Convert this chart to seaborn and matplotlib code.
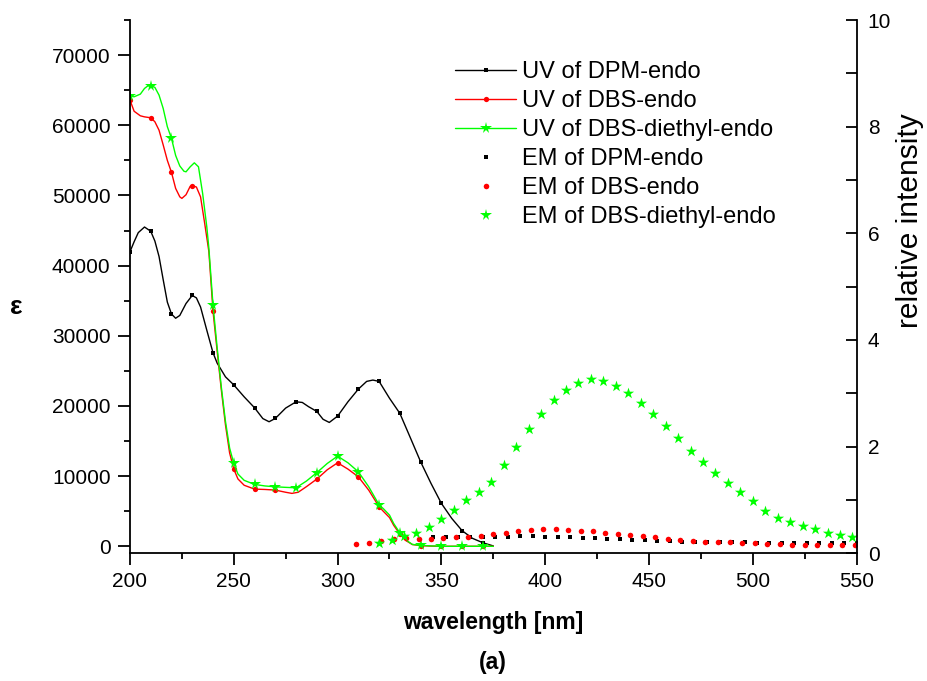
import matplotlib
matplotlib.use("Agg")
import matplotlib.pyplot as plt
from matplotlib.lines import Line2D
from matplotlib.ticker import MultipleLocator
import seaborn as sns

sns.set_theme(style="ticks")
plt.rcParams["font.family"] = ["Liberation Sans", "DejaVu Sans"]
plt.rcParams.update({
    "axes.linewidth": 1.3,
    "text.color": "black",
    "axes.labelcolor": "black",
    "xtick.color": "black",
    "ytick.color": "black",
    "axes.edgecolor": "black",
})

# ---- UV absorption spectra (molar absorptivity) ----
dpm_uv_nm = [200, 202, 204, 207, 210, 212, 214, 216, 218, 220, 222, 224, 227, 230,
             232, 234, 237, 240, 242, 246, 250, 255, 260, 264, 267, 270, 275, 280,
             283, 286, 290, 293, 296, 300, 305, 310, 314, 317, 320, 325, 330, 335,
             340, 345, 350, 355, 360, 365, 370, 375]
dpm_uv_eps = [41970, 43400, 44700, 45500, 44900, 43500, 41300, 38000, 34800, 33100,
              32500, 32900, 34600, 35750, 35400, 34100, 30800, 27580, 26100, 24150,
              23000, 21300, 19740, 18200, 17750, 18220, 19700, 20590, 20500, 19900,
              19220, 18100, 17650, 18550, 20600, 22400, 23500, 23690, 23500, 21100,
              18940, 15500, 12040, 8960, 6110, 3970, 2220, 1130, 500, 50]

dbs_uv_nm = [200, 202, 205, 207, 210, 212, 214, 216, 218, 220, 222, 224, 225, 227,
             229, 230, 232, 234, 236, 238, 240, 242, 244, 246, 248, 250, 252, 255,
             260, 265, 270, 275, 278, 281, 285, 290, 295, 300, 305, 310, 315, 320,
             322, 325, 327, 330, 333, 336, 340, 345, 350, 360, 370, 375]
dbs_uv_eps = [63590, 62000, 61350, 61200, 61070, 60500, 59300, 57200, 55000, 53280,
              51000, 49800, 49580, 50100, 51300, 51400, 51200, 49800, 46000, 42000,
              33500, 27800, 22300, 17300, 13300, 11000, 9600, 8700, 8150, 8100, 8010,
              7700, 7540, 7700, 8500, 9580, 10900, 11900, 11000, 9900, 8000, 5630,
              5000, 4100, 3000, 1740, 800, 250, 100, 30, 0, 0, 0, 0]

dbse_uv_nm = [200, 202, 205, 207, 209, 210, 212, 214, 216, 218, 220, 222, 224, 226,
              227, 229, 231, 233, 235, 237, 238, 240, 242, 244, 246, 248, 250, 252,
              255, 260, 265, 270, 275, 280, 285, 290, 295, 300, 305, 310, 315, 320,
              322, 325, 327, 330, 333, 336, 340, 345, 350, 360, 370, 375]
dbse_uv_eps = [64160, 64060, 64440, 65250, 65700, 65630, 65400, 64300, 62400, 59800,
               58130, 55700, 54200, 53450, 53370, 54080, 54650, 54080, 50290, 45530,
               42500, 34370, 28300, 22700, 17800, 14000, 11810, 10300, 9400, 8820,
               8600, 8480, 8400, 8340, 9300, 10500, 11800, 12850, 11900, 10620, 8480,
               5900, 5370, 4450, 3260, 1900, 880, 270, 120, 50, 0, 0, 0, 0]

# ---- Emission spectra (relative intensity) ----
dpm_em_nm = [346, 352, 358, 364, 370, 376, 382, 388, 394, 400, 406, 412, 418, 424,
             430, 436, 442, 448, 454, 460, 466, 472, 478, 484, 490, 496, 502, 508,
             514, 520, 526, 532, 538, 544, 550]
dpm_em_int = [0.31, 0.30, 0.31, 0.30, 0.30, 0.30, 0.31, 0.32, 0.32, 0.31, 0.31, 0.30,
              0.29, 0.28, 0.27, 0.26, 0.25, 0.25, 0.24, 0.23, 0.22, 0.22, 0.22, 0.21,
              0.21, 0.21, 0.20, 0.20, 0.19, 0.20, 0.20, 0.20, 0.20, 0.20, 0.20]

dbs_em_nm = [309, 315, 321, 327, 333, 339, 345, 351, 357, 363, 369, 375, 381, 387,
             393, 399, 405, 411, 417, 423, 429, 435, 441, 447, 453, 459, 465, 471,
             477, 483, 489, 495, 501, 507, 513, 519, 525, 531, 537, 543, 549]
dbs_em_int = [0.17, 0.20, 0.24, 0.26, 0.29, 0.27, 0.27, 0.29, 0.31, 0.31, 0.32, 0.36,
              0.39, 0.41, 0.44, 0.45, 0.45, 0.44, 0.42, 0.41, 0.39, 0.36, 0.34, 0.32,
              0.30, 0.27, 0.25, 0.24, 0.22, 0.21, 0.21, 0.19, 0.19, 0.17, 0.17, 0.16,
              0.16, 0.16, 0.16, 0.16, 0.16]

dbse_em_nm = [320, 326, 332, 338, 344, 350, 356, 362, 368, 374, 380, 386, 392, 398,
              404, 410, 416, 422, 428, 434, 440, 446, 452, 458, 464, 470, 476, 482,
              488, 494, 500, 506, 512, 518, 524, 530, 536, 542, 548]
dbse_em_int = [0.19, 0.25, 0.32, 0.39, 0.50, 0.64, 0.81, 1.00, 1.155, 1.33, 1.66, 2.00,
               2.33, 2.62, 2.87, 3.07, 3.20, 3.26, 3.24, 3.14, 3.01, 2.82, 2.62, 2.39,
               2.17, 1.92, 1.71, 1.51, 1.32, 1.155, 0.99, 0.80, 0.67, 0.59, 0.52, 0.45,
               0.39, 0.35, 0.31]

series_labels = ["UV of DPM-endo", "UV of DBS-endo", "UV of DBS-diethyl-endo",
                 "EM of DPM-endo", "EM of DBS-endo", "EM of DBS-diethyl-endo"]

BLACK, RED, GREEN = "#000000", "#ff0000", "#00ff00"

fig = plt.figure(figsize=(9.27, 6.81), dpi=100)
ax = fig.add_axes([0.1402, 0.1875, 0.7839, 0.7831])
ax2 = ax.twinx()


def every_ten(nm):
    return [i for i, v in enumerate(nm) if v % 10 == 0]


uv_sets = [
    (dpm_uv_nm, dpm_uv_eps, BLACK, "s", 3.0),
    (dbs_uv_nm, dbs_uv_eps, RED, "o", 3.8),
    (dbse_uv_nm, dbse_uv_eps, GREEN, "*", 8.5),
]
for nm, eps, col, mk, ms in uv_sets:
    sns.lineplot(x=nm, y=eps, ax=ax, color=col, linewidth=1.0, sort=False,
                 estimator=None, marker=mk, markersize=ms, markevery=every_ten(nm),
                 markeredgecolor=col, markeredgewidth=0, legend=False)

em_sets = [
    (dpm_em_nm, dpm_em_int, BLACK, "s", 9),
    (dbs_em_nm, dbs_em_int, RED, "o", 16),
    (dbse_em_nm, dbse_em_int, GREEN, "*", 72),
]
for nm, inten, col, mk, s in em_sets:
    sns.scatterplot(x=nm, y=inten, ax=ax2, color=col, marker=mk, s=s,
                    linewidth=0, legend=False)

# axes ranges and ticks
ax.set_xlim(200, 550)
ax.set_ylim(-1000, 75000)
ax2.set_ylim(0, 10)

ax.xaxis.set_major_locator(MultipleLocator(50))
ax.xaxis.set_minor_locator(MultipleLocator(25))
ax.yaxis.set_major_locator(MultipleLocator(10000))
ax.yaxis.set_minor_locator(MultipleLocator(5000))
ax2.yaxis.set_major_locator(MultipleLocator(2))
ax2.yaxis.set_minor_locator(MultipleLocator(1))

ax.tick_params(axis="x", which="major", direction="out", length=8.5, width=1.3,
               labelsize=15, pad=5)
ax.tick_params(axis="x", which="minor", direction="out", length=4.5, width=1.3)
ax.tick_params(axis="y", which="major", direction="out", length=8.5, width=1.3,
               labelsize=15, pad=5.5, right=False)
ax.tick_params(axis="y", which="minor", direction="out", length=4.5, width=1.3,
               right=False)
ax2.tick_params(axis="y", which="both", direction="in", length=8, width=1.3,
                labelsize=15, pad=8, left=False)

ax.spines["top"].set_visible(False)
ax2.spines["top"].set_visible(False)
ax.spines["right"].set_visible(False)
for sp in ("left", "bottom"):
    ax.spines[sp].set_linewidth(1.3)
ax2.spines["right"].set_linewidth(1.3)
ax2.spines["left"].set_visible(False)
ax2.spines["bottom"].set_visible(False)

# axis titles
ax.set_xlabel("wavelength [nm]", fontsize=16.5, fontweight="bold")
ax.xaxis.set_label_coords(0.5, -(622 - 553.3) / 533.3)
ax.xaxis.label.set_va("center")

ax.set_ylabel("ε", fontsize=19, fontweight="bold", rotation=0)
ax.yaxis.set_label_coords(-0.157, 0.462)
ax.yaxis.label.set_va("center")
ax.yaxis.label.set_ha("center")

ax2.set_ylabel("relative intensity", fontsize=21.5, rotation=90)
ax2.yaxis.set_label_coords((910 - 130) / 726.7, (553.3 - 221) / 533.3)
ax2.yaxis.label.set_va("center")
ax2.yaxis.label.set_ha("center")

fig.text(493 / 927, 1 - 662 / 681, "(a)", ha="center", va="center",
         fontsize=16.5, fontweight="bold")

# legend
handles = [
    Line2D([], [], color=BLACK, lw=1.0, marker="s", ms=3.0, mew=0),
    Line2D([], [], color=RED, lw=1.0, marker="o", ms=3.8, mew=0),
    Line2D([], [], color=GREEN, lw=1.0, marker="*", ms=8.5, mew=0),
    Line2D([], [], color=BLACK, lw=0, marker="s", ms=3.0, mew=0),
    Line2D([], [], color=RED, lw=0, marker="o", ms=4.0, mew=0),
    Line2D([], [], color=GREEN, lw=0, marker="*", ms=8.5, mew=0),
]
leg = ax2.legend(handles, series_labels, loc="upper left",
                 bbox_to_anchor=((455 - 130) / 726.7, (553.3 - 61) / 533.3),
                 frameon=False, fontsize=17, numpoints=1, handlelength=2.6,
                 handletextpad=0.25, labelspacing=0.3, borderpad=0, borderaxespad=0)

fig.savefig("out.png", dpi=100)
